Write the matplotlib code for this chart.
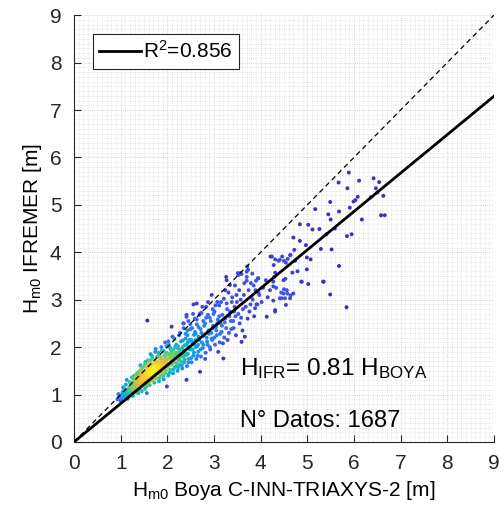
import numpy as np
import matplotlib.pyplot as plt
from matplotlib.colors import LinearSegmentedColormap
from matplotlib.ticker import MultipleLocator

plt.rcParams['font.family'] = ['Liberation Sans', 'DejaVu Sans']
plt.rcParams['mathtext.fontset'] = 'custom'
plt.rcParams['mathtext.rm'] = 'Liberation Sans'
plt.rcParams['mathtext.it'] = 'Liberation Sans'

# --- data (Hm0 buoy vs Hm0 IFREMER, metres) ---
# dense core of the cloud
core_pts = [
    (0.93, 0.90), (0.97, 0.95), (0.95, 1.01), (0.99, 0.87),
    (1.02, 0.92), (1.06, 0.98), (1.04, 1.05), (1.08, 1.12), (1.01, 0.86), (1.09, 0.94),
    (1.12, 0.95), (1.16, 1.02), (1.14, 1.08), (1.18, 1.15), (1.11, 1.21), (1.19, 0.98), (1.13, 1.00), (1.17, 1.10),
    (1.22, 1.00), (1.26, 1.06), (1.24, 1.12), (1.28, 1.18), (1.21, 1.25), (1.27, 1.32), (1.23, 1.10), (1.29, 1.40),
    (1.25, 1.15), (1.20, 1.05),
    (1.32, 1.05), (1.36, 1.12), (1.34, 1.18), (1.38, 1.22), (1.31, 1.28), (1.37, 1.34), (1.33, 1.40), (1.39, 1.48),
    (1.35, 1.15), (1.30, 1.25), (1.36, 1.20), (1.34, 1.30),
    (1.42, 1.10), (1.46, 1.18), (1.44, 1.24), (1.48, 1.28), (1.41, 1.33), (1.47, 1.38), (1.43, 1.42), (1.49, 1.48),
    (1.45, 1.55), (1.42, 1.62), (1.46, 1.30), (1.44, 1.36), (1.48, 1.22), (1.40, 1.27),
    (1.52, 1.12), (1.56, 1.22), (1.54, 1.30), (1.58, 1.35), (1.51, 1.40), (1.57, 1.44), (1.53, 1.48), (1.59, 1.52),
    (1.55, 1.58), (1.52, 1.65), (1.58, 1.72), (1.56, 1.38), (1.54, 1.46), (1.56, 1.03), (1.50, 1.33), (1.59, 1.42),
    (1.62, 1.20), (1.66, 1.30), (1.64, 1.36), (1.68, 1.42), (1.61, 1.46), (1.67, 1.50), (1.63, 1.54), (1.69, 1.58),
    (1.65, 1.62), (1.62, 1.68), (1.68, 1.76), (1.64, 1.85), (1.66, 1.44), (1.63, 1.52), (1.60, 1.40), (1.69, 1.48),
    (1.72, 1.25), (1.76, 1.34), (1.74, 1.42), (1.78, 1.48), (1.71, 1.52), (1.77, 1.55), (1.73, 1.58), (1.79, 1.62),
    (1.75, 1.67), (1.72, 1.72), (1.78, 1.80), (1.74, 1.90), (1.76, 1.50), (1.73, 1.60), (1.70, 1.45), (1.79, 1.56),
    (1.82, 1.28), (1.86, 1.40), (1.84, 1.48), (1.88, 1.54), (1.81, 1.58), (1.87, 1.62), (1.83, 1.66), (1.89, 1.70),
    (1.85, 1.75), (1.82, 1.82), (1.88, 1.92), (1.86, 1.60), (1.84, 1.68), (1.80, 1.52),
    (1.92, 1.32), (1.96, 1.45), (1.94, 1.55), (1.98, 1.62), (1.91, 1.66), (1.97, 1.70), (1.93, 1.74), (1.99, 1.78),
    (1.95, 1.84), (1.92, 1.92), (1.98, 2.02), (1.99, 1.17), (1.96, 1.68), (1.90, 1.60),
    (2.02, 1.40), (2.06, 1.52), (2.04, 1.62), (2.08, 1.70), (2.01, 1.75), (2.07, 1.80), (2.03, 1.85), (2.09, 1.92),
    (2.05, 2.00), (2.02, 2.12), (2.06, 1.78), (2.09, 2.43),
    (2.12, 1.45), (2.16, 1.58), (2.14, 1.68), (2.18, 1.76), (2.11, 1.82), (2.17, 1.88), (2.13, 1.95), (2.19, 2.05),
    (2.15, 2.18), (2.16, 1.85), (2.10, 1.72),
    (2.22, 1.50), (2.26, 1.62), (2.24, 1.72), (2.28, 1.80), (2.21, 1.88), (2.27, 1.95), (2.23, 2.02), (2.29, 2.12),
    (2.25, 2.25), (2.26, 1.92), (2.20, 1.66),
    (2.32, 1.55), (2.36, 1.68), (2.34, 1.80), (2.38, 1.88), (2.31, 1.96), (2.37, 2.04), (2.33, 2.14), (2.39, 2.28),
    (2.35, 2.40), (2.36, 1.92),
    (2.42, 1.60), (2.46, 1.75), (2.44, 1.86), (2.48, 1.95), (2.41, 2.05), (2.47, 2.15), (2.43, 2.25), (2.49, 2.38),
    (2.45, 2.55), (2.41, 1.31), (2.41, 2.64),
    (2.52, 1.68), (2.56, 1.82), (2.54, 1.95), (2.58, 2.05), (2.51, 2.15), (2.57, 2.26), (2.53, 2.40), (2.59, 2.60),
    (2.62, 1.75), (2.66, 1.90), (2.64, 2.02), (2.68, 2.15), (2.61, 2.28), (2.67, 2.42), (2.63, 2.58), (2.70, 1.48),
    (2.72, 1.80), (2.76, 1.98), (2.74, 2.10), (2.78, 2.24), (2.71, 2.38), (2.77, 2.55), (2.73, 2.72),
    (2.82, 1.88), (2.86, 2.05), (2.84, 2.20), (2.88, 2.35), (2.81, 2.50), (2.87, 2.68), (2.83, 2.85),
    (2.92, 1.95), (2.96, 2.15), (2.94, 2.30), (2.98, 2.45), (2.91, 2.62), (2.97, 2.80),
    (3.02, 2.05), (3.06, 2.25), (3.04, 2.42), (3.08, 2.58), (3.01, 2.75), (3.07, 2.95),
    (3.12, 2.10), (3.16, 2.32), (3.14, 2.50), (3.18, 2.68), (3.11, 2.88),
    (3.22, 2.20), (3.26, 2.40), (3.24, 2.60), (3.28, 2.80), (3.21, 3.02),
    (3.32, 2.30), (3.36, 2.55), (3.34, 2.75), (3.38, 2.95), (3.31, 3.15),
    (3.42, 2.40), (3.46, 2.65), (3.44, 2.85), (3.48, 3.10), (3.45, 3.30),
    (3.55, 2.50), (3.62, 2.80), (3.57, 3.00), (3.72, 2.60), (3.78, 2.90), (3.74, 3.20),
    (3.65, 3.35), (3.80, 3.05), (1.57, 2.56),
]
# second pass over the cloud, filling the band between the first readings
core_pts_b = [
    (1.03, 1.00), (1.07, 1.08), (1.11, 1.03), (1.15, 0.91), (1.19, 1.26), (1.23, 1.19), (1.26, 0.97), (1.29, 1.08),
    (1.05, 1.15), (1.13, 1.31), (1.24, 1.36), (1.28, 1.27),
    (1.31, 1.13), (1.33, 1.36), (1.35, 1.45), (1.37, 1.03), (1.39, 1.31), (1.41, 1.19), (1.43, 1.51), (1.45, 1.07),
    (1.47, 1.44), (1.49, 1.59), (1.51, 1.25), (1.53, 1.69), (1.55, 1.17), (1.57, 1.54), (1.59, 1.62), (1.36, 1.27),
    (1.44, 1.45), (1.52, 1.50), (1.58, 1.29), (1.48, 1.35), (1.32, 1.21), (1.40, 1.40),
    (1.61, 1.26), (1.63, 1.72), (1.65, 1.39), (1.67, 1.81), (1.69, 1.33), (1.71, 1.63), (1.73, 1.37), (1.75, 1.96),
    (1.77, 1.70), (1.79, 1.44), (1.81, 1.88), (1.83, 1.35), (1.85, 1.57), (1.87, 2.00), (1.89, 1.46), (1.62, 1.57),
    (1.68, 1.64), (1.74, 1.52), (1.80, 1.65), (1.86, 1.78), (1.66, 1.48), (1.78, 1.59), (1.70, 1.56), (1.84, 1.62),
    (1.64, 1.44),
    (1.91, 1.39), (1.93, 1.82), (1.95, 2.10), (1.97, 1.50), (1.99, 1.88), (2.01, 1.58), (2.03, 2.05), (2.05, 1.46),
    (2.07, 1.95), (2.09, 1.63), (2.11, 2.22), (2.13, 1.53), (2.15, 1.79), (2.17, 2.01), (2.19, 1.60), (2.21, 1.98),
    (2.23, 1.57), (2.25, 1.84), (2.27, 2.30), (2.29, 1.70), (1.94, 1.72), (2.00, 1.66), (2.08, 1.86), (2.14, 1.74),
    (2.20, 1.80), (2.26, 1.76),
    (2.31, 1.62), (2.33, 2.00), (2.35, 2.50), (2.37, 1.74), (2.39, 2.18), (2.41, 1.83), (2.43, 2.35), (2.45, 1.68),
    (2.47, 2.00), (2.49, 2.48), (2.51, 1.77), (2.53, 2.10), (2.55, 2.70), (2.57, 1.88), (2.59, 2.32), (2.61, 2.00),
    (2.63, 2.48), (2.65, 1.82), (2.67, 2.22), (2.69, 2.68), (2.34, 1.86), (2.44, 2.10), (2.52, 1.95), (2.60, 2.15),
    (2.66, 2.05),
    (2.71, 1.95), (2.73, 2.30), (2.75, 2.85), (2.77, 2.05), (2.79, 2.45), (2.81, 1.75), (2.83, 2.62), (2.85, 2.12),
    (2.87, 2.95), (2.89, 2.28), (2.91, 2.00), (2.93, 2.55), (2.95, 2.18), (2.97, 2.40), (2.99, 2.70), (3.01, 2.20),
    (3.03, 2.88), (3.05, 2.35), (3.07, 2.50), (3.09, 1.90), (3.11, 2.65), (3.13, 2.28), (3.15, 2.95), (3.17, 2.45),
    (3.19, 2.08),
    (3.23, 2.52), (3.27, 2.92), (3.29, 2.15), (3.33, 2.65), (3.37, 2.38), (3.39, 3.05), (3.41, 2.55), (3.43, 2.75),
    (3.47, 2.25), (3.49, 2.95), (3.52, 2.70), (3.54, 3.20), (3.58, 2.62), (3.61, 2.35), (3.64, 3.10), (3.68, 2.85),
    (3.70, 3.40), (3.76, 2.75), (3.79, 3.35), (3.83, 3.00), (3.86, 2.65), (3.89, 3.20), (3.93, 2.90),
]
# sparse points, upper tail and outliers
tail_pts = [
    (5.89, 5.68), (5.67, 5.47), (6.11, 5.51), (6.42, 5.56), (6.54, 5.48), (5.86, 5.35), (6.47, 5.35),
    (6.50, 5.26), (6.63, 5.19), (6.36, 5.16), (6.08, 5.17), (6.03, 5.10), (5.99, 5.07), (5.49, 5.06),
    (5.91, 4.94), (5.17, 4.91), (5.68, 4.86), (5.45, 4.80), (6.58, 4.78), (6.66, 4.78), (5.50, 4.69),
    (6.17, 4.69), (4.84, 4.59), (5.02, 4.58), (5.11, 4.48), (5.26, 4.49), (5.59, 4.50), (5.41, 4.38),
    (5.85, 4.34), (5.95, 4.38), (4.70, 4.31), (4.84, 4.24), (4.97, 4.15), (5.29, 4.07), (5.52, 4.06),
    (4.72, 4.05), (4.21, 3.91), (4.46, 3.91), (4.31, 3.85), (4.38, 3.82), (4.50, 3.82), (4.58, 3.86),
    (4.64, 3.94), (4.74, 3.82), (4.99, 3.89), (5.07, 3.85), (4.28, 3.73), (4.54, 3.78), (4.79, 3.60),
    (4.99, 3.64), (5.68, 3.71), (3.71, 3.70), (3.73, 3.63), (3.51, 3.56), (3.59, 3.54), (3.26, 3.48),
    (3.70, 3.48), (3.94, 3.45), (4.53, 3.44), (4.29, 3.48), (5.84, 2.84), (5.49, 3.11), (5.35, 3.38),
    (5.02, 3.33), (4.88, 3.38), (4.63, 3.03), (4.49, 3.13), (4.45, 3.03), (4.31, 2.75), (4.13, 2.64),
    (3.97, 3.10), (3.91, 2.90), (3.88, 2.82), (3.59, 2.11), (3.66, 2.22), (3.20, 1.76), (2.56, 2.90),
    (4.31, 3.57), (4.68, 3.57), (4.11, 3.41), (4.27, 3.38), (4.49, 3.41), (4.87, 3.38), (5.34, 3.38),
    (4.33, 3.25), (4.44, 3.15), (4.50, 3.22), (4.57, 3.13), (4.70, 3.13), (4.52, 3.03), (4.27, 2.98),
    (4.64, 3.09), (4.54, 2.89), (3.85, 3.30), (3.95, 3.15), (4.05, 3.25), (4.02, 2.95), (3.82, 3.55),
    (4.15, 3.05), (3.90, 3.40), (4.20, 3.20),
    (2.95, 3.10), (3.24, 3.20), (3.52, 3.52), (3.34, 3.31), (3.70, 3.59), (2.41, 2.68), (2.70, 2.71),
    (2.34, 2.50), (4.24, 3.91), (4.41, 3.84), (4.63, 3.94), (3.56, 3.56), (3.95, 3.45), (4.27, 3.28),
    (4.56, 3.20), (4.41, 3.03), (4.31, 2.78), (3.27, 3.41), (2.63, 2.92),
]

all_pts = core_pts + core_pts_b + tail_pts
boya = np.array([p[0] for p in all_pts])
ifremer = np.array([p[1] for p in all_pts])

slope = 0.81
r2 = 0.856
n_datos = 1687

# MATLAB parula-like colormap
parula = LinearSegmentedColormap.from_list('parula', [
    (0.00, (0.240, 0.170, 0.680)), (0.10, (0.260, 0.260, 0.820)),
    (0.20, (0.250, 0.380, 0.950)), (0.32, (0.110, 0.560, 0.930)),
    (0.44, (0.050, 0.690, 0.830)), (0.56, (0.180, 0.760, 0.650)),
    (0.68, (0.480, 0.800, 0.400)), (0.80, (0.830, 0.740, 0.220)),
    (0.90, (0.990, 0.760, 0.220)), (1.00, (0.977, 0.950, 0.081))])

# point density -> colour
dx = boya[:, None] - boya[None, :]
dy = ifremer[:, None] - ifremer[None, :]
dens = np.exp(-(dx**2 + dy**2) / (2 * 0.16**2)).sum(axis=1)
dens = (dens - dens.min()) / (dens.max() - dens.min())
order = np.argsort(dens)

fig = plt.figure(figsize=(5.04, 5.23), dpi=100)
ax = fig.add_axes([0.147, 0.155, 0.833, 0.816])

ax.scatter(boya[order], ifremer[order], c=dens[order], cmap=parula, s=8,
           linewidths=0, zorder=3)

lims = np.array([0, 9])
ax.plot(lims, lims, color='black', linestyle=(0, (4, 3)), linewidth=0.9, zorder=4)
ax.plot(lims, slope * lims, color='black', linewidth=2, zorder=5,
        label=r'R$^2$=' + f'{r2:.3f}')

ax.set_xlim(0, 9)
ax.set_ylim(0, 9)
ax.xaxis.set_major_locator(MultipleLocator(1))
ax.yaxis.set_major_locator(MultipleLocator(1))
ax.xaxis.set_minor_locator(MultipleLocator(0.1))
ax.yaxis.set_minor_locator(MultipleLocator(0.1))
ax.grid(which='major', color='#c4c4c4', linewidth=0.6, linestyle=':')
ax.grid(which='minor', color='#d6d6d6', linewidth=0.5, linestyle=':')
ax.set_axisbelow(True)

for s in ['top', 'right']:
    ax.spines[s].set_visible(False)
for s in ['left', 'bottom']:
    ax.spines[s].set_color('#262626')
    ax.spines[s].set_linewidth(0.8)
ax.tick_params(which='major', direction='in', length=5, labelsize=15, width=0.8,
               colors='#262626', pad=9)
ax.tick_params(which='minor', length=0)

ax.set_xlabel(r'H$_{\mathrm{m0}}$ Boya C-INN-TRIAXYS-2 [m]', fontsize=15, labelpad=4)
ax.set_ylabel(r'H$_{\mathrm{m0}}$ IFREMER [m]', fontsize=15, labelpad=4)

ax.text(3.56, 1.41, r'H$_{\mathrm{IFR}}$= ' + f'{slope:.2f}' + r' H$_{\mathrm{BOYA}}$',
        fontsize=17.5, zorder=6)
ax.text(3.56, 0.32, f'N° Datos: {n_datos}', fontsize=17, zorder=6)

leg = ax.legend(loc='upper left', bbox_to_anchor=(0.02, 0.98), fontsize=15,
                handlelength=2.0, handletextpad=0.1, borderpad=0.3,
                fancybox=False, framealpha=1, edgecolor='#262626')
leg.get_frame().set_linewidth(0.8)

fig.savefig('out.png', dpi=100)
